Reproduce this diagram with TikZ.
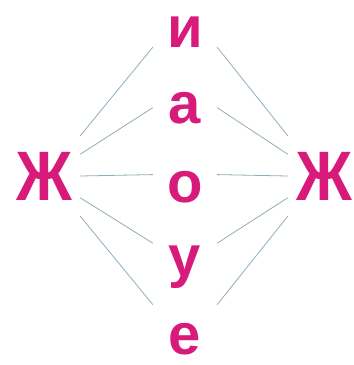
\documentclass[tikz,border=0pt]{standalone}
\usepackage{fontspec}
\setmainfont{Liberation Sans}
\newfontfamily\zhfont[FakeStretch=0.88]{Liberation Sans}
\usepackage{tikz}
\definecolor{cLet}{HTML}{D81B7B}
\definecolor{cLine}{HTML}{8FAEBB}

\begin{document}
\begin{tikzpicture}[x=1pt, y=-1pt,
  cons/.style={text=cLet, font=\zhfont\fontsize{70}{70}\selectfont\bfseries, minimum width=72pt, minimum height=80pt, inner sep=0pt},
  vow/.style={text=cLet, font=\fontsize{58}{58}\selectfont\bfseries, minimum width=64pt, inner sep=0pt, anchor=base},
  lnk/.style={draw=cLine, line width=0.8pt}
]
\useasboundingbox (0,0) rectangle (354,365);
\node[cons] (zl) at (44,176) {Ж};
\node[cons] (zr) at (324,176) {Ж};
\node[vow] (i) at (185,47) {и};
\node[vow] (a) at (185,123) {а};
\node[vow] (o) at (185,202) {о};
\node[vow] (u) at (185,276) {у};
\node[vow] (e) at (185,354) {е};
\draw[lnk] (zl.north east) -- (i.south west);
\draw[lnk] (zl.31) -- (a.west);
\draw[lnk] (zl.east) -- ([yshift=-4pt]o.north west);
\draw[lnk] (zl.-31) -- ([yshift=2pt]u.north west);
\draw[lnk] (zl.south east) -- ([yshift=18pt]e.north west);
\draw[lnk] (zr.north west) -- (i.south east);
\draw[lnk] (zr.149) -- (a.east);
\draw[lnk] (zr.west) -- ([yshift=-4pt]o.north east);
\draw[lnk] (zr.-149) -- ([yshift=2pt]u.north east);
\draw[lnk] (zr.south west) -- ([yshift=18pt]e.north east);
\end{tikzpicture}
\end{document}
